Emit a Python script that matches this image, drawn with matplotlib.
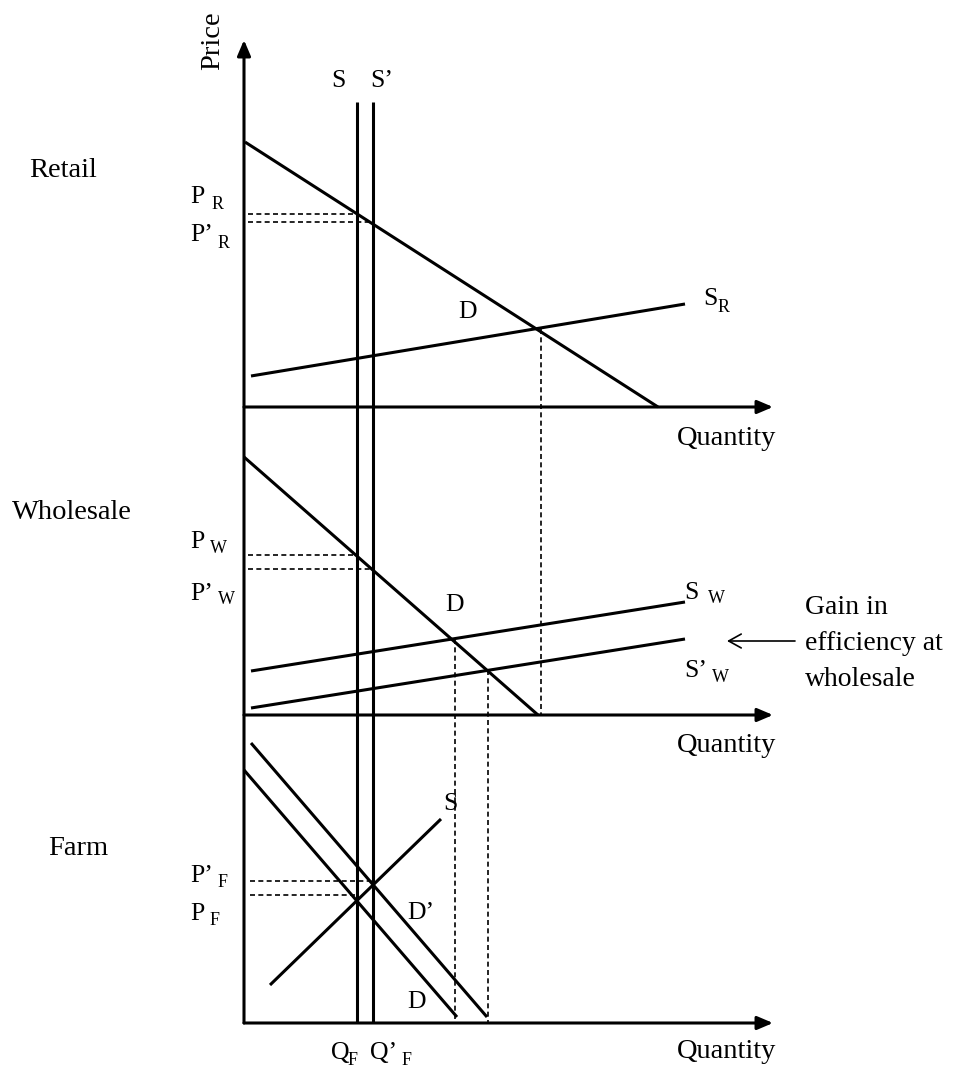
import matplotlib
matplotlib.use("Agg")
import matplotlib.pyplot as plt

plt.rcParams['font.family'] = ['Liberation Serif', 'DejaVu Serif']

# ---------------- data (diagram units, y grows downward) ----------------
FIG_W, FIG_H = 959, 1069

# axes
y_axis_x = 244
y_axis_top = 40
axis_bottom = 1023
x_axis_levels = [407, 715, 1023]          # retail, wholesale, farm
x_axis_end = 773

# fixed supplies S and S'
supply_S_x = [357, 373]
supply_S_top = 102

# retail market
retail_D_x = [245, 658]
retail_D_y = [142, 407]
retail_SR_x = [251, 685]
retail_SR_y = [376, 304]
retail_prices = [214, 222]                # P_R, P'_R
retail_eq = [541, 329]                    # equilibrium point (x, y)

# wholesale market
whole_D_x = [244, 538]
whole_D_y = [457, 715]
whole_SW_x = [251, 685]
whole_SW_y = [671, 602]
whole_SW2_x = [251, 685]
whole_SW2_y = [708, 639]
whole_prices = [555, 569]                 # P_W, P'_W
whole_eq_x = [455, 488]
whole_eq_y = [639, 670]

# farm market
farm_D_x = [244, 457]
farm_D_y = [770, 1017]
farm_D2_x = [251, 487]
farm_D2_y = [743, 1017]
farm_S_x = [270, 441]
farm_S_y = [985, 819]
farm_prices = [881, 895]                  # P'_F, P_F

# ---------------- drawing ----------------
fig = plt.figure(figsize=(FIG_W / 100, FIG_H / 100), dpi=100)
ax = fig.add_axes([0, 0, 1, 1])
ax.set_xlim(0, FIG_W)
ax.set_ylim(FIG_H, 0)
ax.axis('off')

LW = 2.2
DLW = 1.2
DASH = (0, (3, 2))
K = 'black'

def solid(xs, ys):
    ax.plot(xs, ys, color=K, lw=LW, solid_capstyle='butt')

def dashed(xs, ys):
    ax.plot(xs, ys, color=K, lw=DLW, linestyle=DASH)

def axis_arrow(x0, y0, x1, y1):
    ax.annotate('', xy=(x1, y1), xytext=(x0, y0),
                arrowprops=dict(arrowstyle='-|>,head_length=0.47,head_width=0.2',
                                lw=LW, color=K, mutation_scale=20,
                                shrinkA=0, shrinkB=0))

# axes
axis_arrow(y_axis_x, axis_bottom, y_axis_x, y_axis_top)
for yl in x_axis_levels:
    axis_arrow(y_axis_x, yl, x_axis_end, yl)

# fixed supply verticals
for sx in supply_S_x:
    solid([sx, sx], [supply_S_top, axis_bottom])

# retail
solid(retail_D_x, retail_D_y)
solid(retail_SR_x, retail_SR_y)
for px, py in zip(supply_S_x, retail_prices):
    dashed([248, px], [py, py])
dashed([retail_eq[0], retail_eq[0]], [retail_eq[1], x_axis_levels[1]])

# wholesale
solid(whole_D_x, whole_D_y)
solid(whole_SW_x, whole_SW_y)
solid(whole_SW2_x, whole_SW2_y)
for px, py in zip(supply_S_x, whole_prices):
    dashed([248, px], [py, py])
for ex, ey in zip(whole_eq_x, whole_eq_y):
    dashed([ex, ex], [ey, axis_bottom])

# farm
solid(farm_D_x, farm_D_y)
solid(farm_D2_x, farm_D2_y)
solid(farm_S_x, farm_S_y)
for px, py in zip(supply_S_x[::-1], farm_prices):
    dashed([250, px], [py, py])

# gain arrow
ax.annotate('', xy=(727, 641), xytext=(795, 641),
            arrowprops=dict(arrowstyle='->,head_length=0.9,head_width=0.5',
                            lw=1.2, color=K, mutation_scale=10,
                            shrinkA=0, shrinkB=0))

# ---------------- text ----------------
BIG = 20.5
MED = 18.5
SUB = 13

def t(x, y, s, size=MED, **kw):
    ax.text(x, y, s, fontsize=size, color=K, ha='left', va='baseline', **kw)

def lab(x, y, main, subx, suby, sub):
    t(x, y, main)
    t(subx, suby, sub, size=SUB)

# section titles
t(29, 177, 'Retail', BIG)
t(12, 519, 'Wholesale', BIG)
t(48, 855, 'Farm', BIG)
ax.text(213, 41, 'Price', fontsize=BIG, rotation=90, ha='center', va='center', color=K)
for qy in [445, 752, 1058]:
    t(677, qy, 'Quantity', BIG)

# supply labels
t(331, 87, 'S')
t(370, 87, 'S\u2019')

# retail labels
lab(190, 203, 'P', 212, 209, 'R')
lab(190, 241, 'P\u2019', 218, 248, 'R')
t(458, 318, 'D')
lab(703, 305, 'S', 718, 312, 'R')

# wholesale labels
lab(190, 548, 'P', 210, 553, 'W')
lab(190, 600, 'P\u2019', 218, 604, 'W')
t(445, 611, 'D')
lab(684, 599, 'S', 708, 603, 'W')
lab(684, 677, 'S\u2019', 712, 682, 'W')
t(805, 614, 'Gain in', BIG - 0.5)
t(805, 650, 'efficiency at', BIG - 0.5)
t(805, 686, 'wholesale', BIG - 0.5)

# farm labels
t(443, 810, 'S')
lab(190, 882, 'P\u2019', 218, 887, 'F')
lab(190, 920, 'P', 210, 925, 'F')
t(407, 919, 'D\u2019')
t(407, 1008, 'D')
lab(331, 1059, 'Q', 348, 1065, 'F')
lab(370, 1059, 'Q\u2019', 402, 1065, 'F')

fig.savefig('out.png', dpi=100, facecolor='white')
